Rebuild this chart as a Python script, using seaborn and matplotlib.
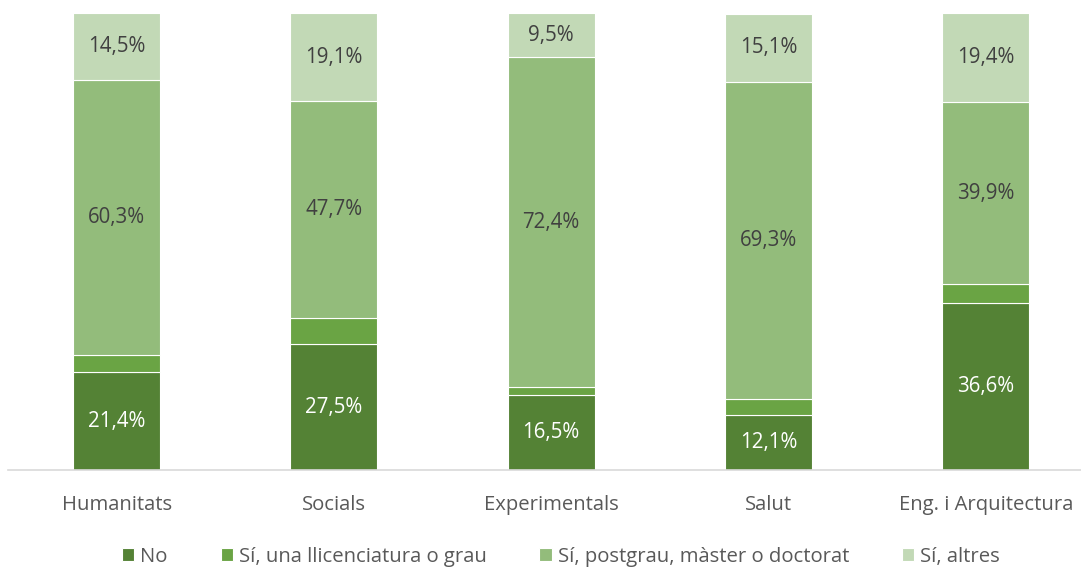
import matplotlib
matplotlib.use("Agg")
import matplotlib.pyplot as plt
import seaborn as sns
import pandas as pd
import numpy as np

categories = ["Humanitats", "Socials", "Experimentals", "Salut", "Eng. i Arquitectura"]
series_names = ["No", "Sí, una llicenciatura o grau", "Sí, postgrau, màster o doctorat", "Sí, altres"]
no_vals = [21.4, 27.5, 16.5, 12.1, 36.6]
grau_vals = [3.8, 5.7, 1.6, 3.5, 4.1]
postgrau_vals = [60.3, 47.7, 72.4, 69.3, 39.9]
altres_vals = [14.5, 19.1, 9.5, 15.1, 19.4]
show_label = [True, False, True, True]

colors = ["#548235", "#6AA444", "#93BC7B", "#C2D9B6"]
label_colors = ["white", None, "#404040", "#404040"]

sns.set_theme(style="white")
plt.rcParams["font.family"] = ["Open Sans", "DejaVu Sans"]

fig = plt.figure(figsize=(10.81, 5.68), dpi=100)
W, H = 1081, 568
ax = fig.add_axes([8 / W, (H - 470) / H, (1094.5 - 8) / W, (470 - 13.5) / H])

series = [no_vals, grau_vals, postgrau_vals, altres_vals]
bottom = np.zeros(len(categories))
for name, vals, col, lcol, show in zip(series_names, series, colors, label_colors, show_label):
    df = pd.DataFrame({"cat": categories, "val": vals})
    sns.barplot(data=df, x="cat", y="val", bottom=bottom, color=col, width=0.4,
                edgecolor="white", linewidth=0.8, label=name, ax=ax, saturation=1)
    if show:
        for i, v in enumerate(vals):
            ax.text(i, bottom[i] + v / 2, f"{v:.1f}".replace(".", ",") + "%",
                    ha="center", va="center", fontsize=14.8, color=lcol)
    bottom = bottom + np.array(vals)

ax.set_xlim(-0.5, 4.5)
ax.set_ylim(0, 100)
ax.set_xlabel("")
ax.set_ylabel("")
ax.set_yticks([])
for s in ["top", "right", "left"]:
    ax.spines[s].set_visible(False)
ax.spines["bottom"].set_color("#D9D9D9")
ax.spines["bottom"].set_linewidth(1.2)
ax.tick_params(axis="x", length=0, pad=18, labelsize=14.6, labelcolor="#595959")

handles, labels = ax.get_legend_handles_labels()
if ax.get_legend() is not None:
    ax.get_legend().remove()
fig.legend(handles, labels, loc="center", bbox_to_anchor=(561 / W, (H - 557) / H), ncol=4,
           frameon=False, fontsize=14.6, labelcolor="#595959", handlelength=0.6,
           handleheight=0.6, handletextpad=0.3, columnspacing=2.6)

fig.savefig("out.png", dpi=100)
